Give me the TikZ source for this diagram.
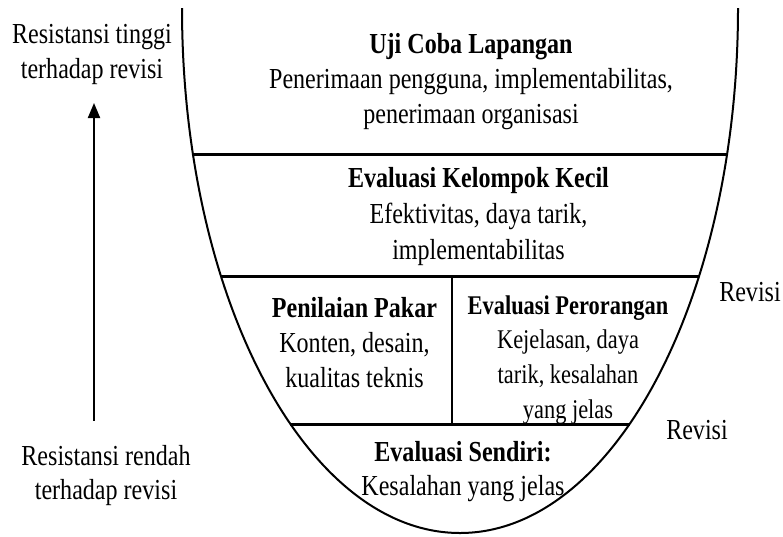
\documentclass[tikz,border=0pt]{standalone}
\usepackage{fontspec}
\setmainfont{Liberation Serif}[FakeStretch=0.83]
\usetikzlibrary{arrows.meta}

\begin{document}
\begin{tikzpicture}[
    x=1pt, y=-1pt,
    stage/.style={align=center, inner sep=0pt, font=\fontsize{29}{35}\selectfont},
    sidelabel/.style={align=center, inner sep=0pt, font=\fontsize{29}{35}\selectfont},
    bowl/.style={line width=2pt},
    divider/.style={line width=3pt},
    arrow/.style={line width=2pt,-{Triangle[length=15pt,width=12pt]}}
]
\useasboundingbox (0,0) rectangle (783,536);

% Bowl
\draw[bowl] (182,8) arc[start angle=180, end angle=360, x radius=278pt, y radius=525pt];

% Dividers
\draw[divider] (193,154) -- (727,154);
\draw[divider] (221,276) -- (699,276);
\draw[divider] (290.4,424) -- (629.6,424);
\draw[bowl] (452,276) -- (452,424);

% Stages
\node[stage] (lapangan) at (471,81.3) {\textbf{Uji Coba Lapangan}\\Penerimaan pengguna, implementabilitas,\\penerimaan organisasi};
\node[stage, font=\fontsize{29}{36}\selectfont] (kelompok) at (478.5,216.3) {\textbf{Evaluasi Kelompok Kecil}\\Efektivitas, daya tarik,\\implementabilitas};
\node[stage] (pakar) at (354.5,342.2) {\textbf{Penilaian Pakar}\\Konten, desain,\\kualitas teknis};
\node[stage, font=\fontsize{27}{34.7}\selectfont] (perorangan) at (568,359.7) {\textbf{Evaluasi Perorangan}\\Kejelasan, daya\\tarik, kesalahan\\yang jelas};
\node[stage, font=\fontsize{29}{34}\selectfont] (sendiri) at (463,471.3) {\textbf{Evaluasi Sendiri:}\\Kesalahan yang jelas};

% Side labels
\node[sidelabel] (tinggi) at (92,54.8) {Resistansi tinggi\\terhadap revisi};
\node[sidelabel, font=\fontsize{29}{34}\selectfont] (rendah) at (106,475.2) {Resistansi rendah\\terhadap revisi};
\node[sidelabel, anchor=base] (revisiatas) at (750,301) {Revisi};
\node[sidelabel, anchor=base] (revisibawah) at (697,439) {Revisi};

% Arrow
\coordinate (pangkal) at (94,420.6);
\coordinate (ujung) at (94,103);
\draw[arrow] (pangkal) -- (ujung);

\end{tikzpicture}
\end{document}
